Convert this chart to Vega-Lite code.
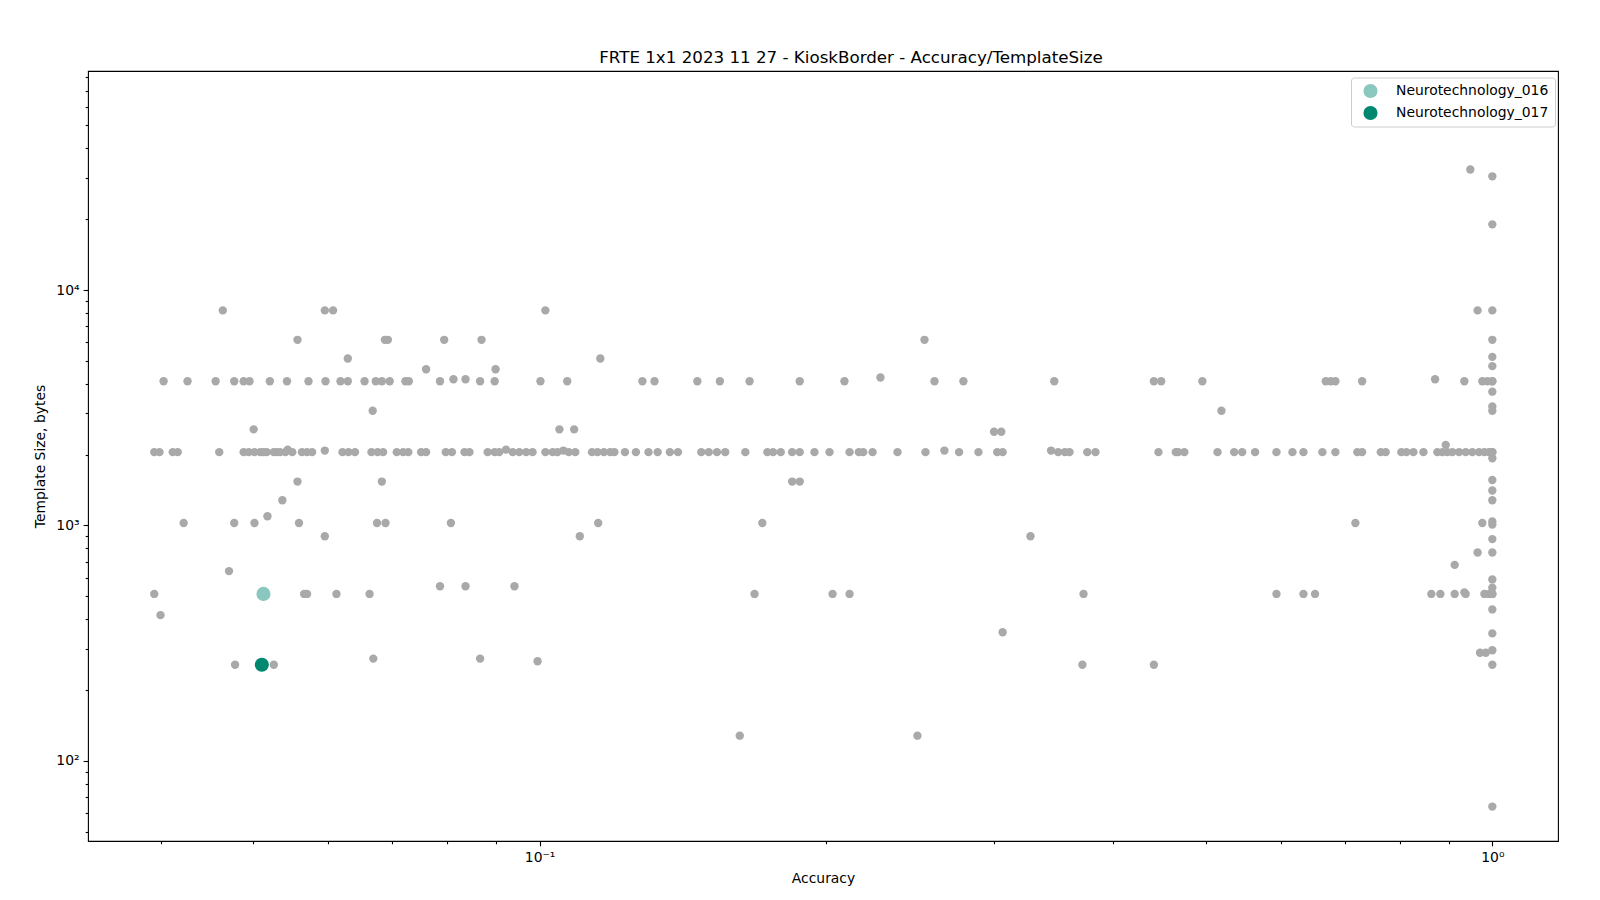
{
  "$schema": "https://vega.github.io/schema/vega-lite/v6.json",
  "width": 1470,
  "height": 770,
  "autosize": {"type": "none"},
  "padding": {"left": 88, "top": 71, "right": 42, "bottom": 59},
  "background": "white",
  "title": {"text": "FRTE 1x1 2023 11 27 - KioskBorder - Accuracy/TemplateSize", "font": "DejaVu Sans", "fontSize": 16.7, "fontWeight": "normal", "color": "black", "anchor": "middle", "frame": "group", "dx": 28, "offset": 4},
  "config": {
    "view": {"stroke": "black", "strokeWidth": 1.1},
    "axis": {"domain": false, "grid": false, "tickColor": "black", "tickWidth": 1.1, "labelColor": "black", "titleColor": "black", "labelFont": "DejaVu Sans", "titleFont": "DejaVu Sans", "labelFontSize": 13.9, "titleFontSize": 13.9, "titleFontWeight": "normal"}
  },
  "datasets": {
    "o": [
      {"a":0.0465,"s":8192},{"a":0.0595,"s":8192},{"a":0.0607,"s":8192},{"a":0.1014,"s":8192},{"a":0.965,"s":8192},{"a":1.0,"s":8192},
      {"a":0.0557,"s":6144},{"a":0.0688,"s":6144},{"a":0.0693,"s":6144},{"a":0.0794,"s":6144},{"a":0.0869,"s":6144},{"a":0.2535,"s":6144},{"a":1.0,"s":6144},
      {"a":0.0629,"s":5120},{"a":0.1158,"s":5120},{"a":1.0,"s":5200},{"a":1.0,"s":4750},
      {"a":0.0760,"s":4608},{"a":0.0899,"s":4608},{"a":0.2279,"s":4250},
      {"a":0.0812,"s":4180},{"a":0.0836,"s":4180},{"a":0.8708,"s":4180},
      {"a":0.0403,"s":4096},{"a":0.0427,"s":4096},{"a":0.0457,"s":4096},{"a":0.0478,"s":4096},{"a":0.0489,"s":4096},{"a":0.0496,"s":4096},{"a":0.0521,"s":4096},{"a":0.0543,"s":4096},{"a":0.0572,"s":4096},{"a":0.0596,"s":4096},{"a":0.0618,"s":4096},{"a":0.0629,"s":4096},{"a":0.0655,"s":4096},{"a":0.0673,"s":4096},{"a":0.0683,"s":4096},{"a":0.0696,"s":4096},{"a":0.0723,"s":4096},{"a":0.0729,"s":4096},{"a":0.0786,"s":4096},{"a":0.0866,"s":4096},{"a":0.0897,"s":4096},{"a":0.1002,"s":4096},{"a":0.1069,"s":4096},{"a":0.1282,"s":4096},{"a":0.1320,"s":4096},{"a":0.1464,"s":4096},{"a":0.1546,"s":4096},{"a":0.1661,"s":4096},{"a":0.1875,"s":4096},{"a":0.2089,"s":4096},{"a":0.2597,"s":4096},{"a":0.2785,"s":4096},{"a":0.3469,"s":4096},{"a":0.4413,"s":4096},{"a":0.4492,"s":4096},{"a":0.4962,"s":4096},{"a":0.6686,"s":4096},{"a":0.6766,"s":4096},{"a":0.6843,"s":4096},{"a":0.7300,"s":4096},{"a":0.9346,"s":4096},{"a":0.9761,"s":4096},{"a":0.988,"s":4096},{"a":1.0,"s":4096},{"a":1.0,"s":4096},
      {"a":1.0,"s":3700},{"a":1.0,"s":3200},
      {"a":0.0668,"s":3072},{"a":0.5196,"s":3072},{"a":1.0,"s":3072},
      {"a":0.0501,"s":2560},{"a":0.1049,"s":2560},{"a":0.1087,"s":2560},
      {"a":0.2999,"s":2500},{"a":0.3052,"s":2500},{"a":0.8935,"s":2200},
      {"a":0.0544,"s":2100},{"a":0.0922,"s":2100},
      {"a":0.0595,"s":2080},{"a":0.1059,"s":2080},{"a":0.2660,"s":2080},{"a":0.3442,"s":2080},
      {"a":0.0394,"s":2048},{"a":0.0399,"s":2048},{"a":0.0412,"s":2048},{"a":0.0417,"s":2048},{"a":0.0461,"s":2048},{"a":0.0489,"s":2048},{"a":0.0495,"s":2048},{"a":0.0502,"s":2048},{"a":0.0509,"s":2048},{"a":0.0513,"s":2048},{"a":0.0517,"s":2048},{"a":0.0526,"s":2048},{"a":0.0530,"s":2048},{"a":0.0534,"s":2048},{"a":0.0541,"s":2048},{"a":0.0550,"s":2048},{"a":0.0563,"s":2048},{"a":0.0570,"s":2048},{"a":0.0577,"s":2048},{"a":0.0621,"s":2048},{"a":0.0630,"s":2048},{"a":0.0640,"s":2048},{"a":0.0666,"s":2048},{"a":0.0676,"s":2048},{"a":0.0685,"s":2048},{"a":0.0708,"s":2048},{"a":0.0719,"s":2048},{"a":0.0728,"s":2048},{"a":0.0751,"s":2048},{"a":0.0760,"s":2048},{"a":0.0797,"s":2048},{"a":0.0809,"s":2048},{"a":0.0834,"s":2048},{"a":0.0844,"s":2048},{"a":0.0882,"s":2048},{"a":0.0897,"s":2048},{"a":0.0907,"s":2048},{"a":0.0937,"s":2048},{"a":0.0952,"s":2048},{"a":0.0968,"s":2048},{"a":0.0983,"s":2048},{"a":0.1014,"s":2048},{"a":0.1032,"s":2048},{"a":0.1044,"s":2048},{"a":0.1073,"s":2048},{"a":0.1090,"s":2048},{"a":0.1135,"s":2048},{"a":0.1150,"s":2048},{"a":0.1168,"s":2048},{"a":0.1186,"s":2048},{"a":0.1198,"s":2048},{"a":0.1229,"s":2048},{"a":0.1262,"s":2048},{"a":0.1301,"s":2048},{"a":0.1330,"s":2048},{"a":0.1370,"s":2048},{"a":0.1397,"s":2048},{"a":0.1478,"s":2048},{"a":0.1505,"s":2048},{"a":0.1535,"s":2048},{"a":0.1566,"s":2048},{"a":0.1644,"s":2048},{"a":0.1734,"s":2048},{"a":0.1758,"s":2048},{"a":0.1791,"s":2048},{"a":0.1841,"s":2048},{"a":0.1875,"s":2048},{"a":0.1943,"s":2048},{"a":0.2015,"s":2048},{"a":0.2115,"s":2048},{"a":0.2163,"s":2048},{"a":0.2186,"s":2048},{"a":0.2236,"s":2048},{"a":0.2375,"s":2048},{"a":0.2541,"s":2048},{"a":0.2756,"s":2048},{"a":0.2888,"s":2048},{"a":0.3022,"s":2048},{"a":0.3062,"s":2048},{"a":0.3502,"s":2048},{"a":0.3559,"s":2048},{"a":0.3599,"s":2048},{"a":0.3757,"s":2048},{"a":0.3832,"s":2048},{"a":0.4462,"s":2048},{"a":0.4653,"s":2048},{"a":0.4680,"s":2048},{"a":0.4750,"s":2048},{"a":0.5147,"s":2048},{"a":0.5358,"s":2048},{"a":0.5463,"s":2048},{"a":0.5636,"s":2048},{"a":0.5935,"s":2048},{"a":0.6169,"s":2048},{"a":0.6335,"s":2048},{"a":0.6632,"s":2048},{"a":0.6843,"s":2048},{"a":0.7216,"s":2048},{"a":0.7300,"s":2048},{"a":0.7637,"s":2048},{"a":0.7728,"s":2048},{"a":0.8026,"s":2048},{"a":0.8125,"s":2048},{"a":0.8263,"s":2048},{"a":0.8466,"s":2048},{"a":0.8756,"s":2048},{"a":0.8863,"s":2048},{"a":0.8970,"s":2048},{"a":0.9079,"s":2048},{"a":0.9227,"s":2048},{"a":0.9376,"s":2048},{"a":0.9528,"s":2048},{"a":0.9684,"s":2048},{"a":0.9810,"s":2048},{"a":0.992,"s":2048},{"a":1.0,"s":2048},{"a":1.0,"s":2048},
      {"a":1.0,"s":1930},{"a":1.0,"s":1560},
      {"a":0.0557,"s":1536},{"a":0.0683,"s":1536},{"a":0.1841,"s":1536},{"a":0.1875,"s":1536},
      {"a":1.0,"s":1408},{"a":0.0537,"s":1280},{"a":1.0,"s":1280},{"a":0.0518,"s":1094},
      {"a":1.0,"s":1040},{"a":1.0,"s":1010},
      {"a":0.0423,"s":1024},{"a":0.0478,"s":1024},{"a":0.0502,"s":1024},{"a":0.0559,"s":1024},{"a":0.0675,"s":1024},{"a":0.0689,"s":1024},{"a":0.0807,"s":1024},{"a":0.1152,"s":1024},{"a":0.1713,"s":1024},{"a":0.7182,"s":1024},{"a":0.9761,"s":1024},
      {"a":0.0595,"s":900},{"a":0.1102,"s":900},{"a":0.3275,"s":900},{"a":1.0,"s":875},
      {"a":0.965,"s":768},{"a":1.0,"s":768},{"a":0.913,"s":680},{"a":0.0472,"s":640},{"a":1.0,"s":590},
      {"a":0.0786,"s":552},{"a":0.0836,"s":552},{"a":0.0941,"s":552},{"a":1.0,"s":544},{"a":0.9346,"s":520},
      {"a":0.0394,"s":512},{"a":0.0566,"s":512},{"a":0.0570,"s":512},{"a":0.0612,"s":512},{"a":0.0663,"s":512},{"a":0.1681,"s":512},{"a":0.2030,"s":512},{"a":0.2115,"s":512},{"a":0.3723,"s":512},{"a":0.5935,"s":512},{"a":0.6335,"s":512},{"a":0.6515,"s":512},{"a":0.8630,"s":512},{"a":0.8820,"s":512},{"a":0.9130,"s":512},{"a":0.9376,"s":512},{"a":0.981,"s":512},{"a":0.992,"s":512},{"a":1.0,"s":512},{"a":1.0,"s":512},
      {"a":1.0,"s":440},{"a":0.0400,"s":416},{"a":0.3062,"s":352},{"a":1.0,"s":348},
      {"a":1.0,"s":295},{"a":0.9707,"s":288},{"a":0.9842,"s":288},
      {"a":0.0669,"s":272},{"a":0.0866,"s":272},{"a":0.0995,"s":265},
      {"a":0.0479,"s":256},{"a":0.0526,"s":256},{"a":0.3713,"s":256},{"a":0.4413,"s":256},{"a":1.0,"s":256},
      {"a":0.1622,"s":128},{"a":0.2492,"s":128},{"a":1.0,"s":64},
      {"a":0.9482,"s":32500},{"a":1.0,"s":30400},{"a":1.0,"s":19000}
    ],
    "h": [
      {"a":0.0513,"s":512,"g":"Neurotechnology_016"},
      {"a":0.0511,"s":256,"g":"Neurotechnology_017"}
    ]
  },
  "layer": [
    {
      "data": {"name": "o"},
      "mark": {"type": "circle", "color": "#a9a9a9", "opacity": 1, "size": 70},
      "encoding": {
        "x": {"field": "a", "type": "quantitative", "scale": {"type": "log", "domain": [0.03357, 1.172], "nice": false},
          "axis": {"orient": "bottom", "values": [0.1, 1], "labelExpr": "datum.value < 0.5 ? '10⁻¹' : '10⁰'", "tickSize": 4.9, "labelPadding": 5, "title": "Accuracy", "titlePadding": 7}},
        "y": {"field": "s", "type": "quantitative", "scale": {"type": "log", "domain": [45.7, 85140], "nice": false},
          "axis": {"orient": "left", "values": [100, 1000, 10000], "labelExpr": "datum.value == 100 ? '10²' : datum.value == 1000 ? '10³' : '10⁴'", "tickSize": 4.9, "labelPadding": 4, "title": "Template Size, bytes", "titlePadding": 8}}
      }
    },
    {
      "data": {"name": "h"},
      "mark": {"type": "circle", "opacity": 1, "size": 200},
      "encoding": {
        "x": {"field": "a", "type": "quantitative", "axis": null},
        "y": {"field": "s", "type": "quantitative", "axis": null},
        "color": {"field": "g", "type": "nominal",
          "scale": {"domain": ["Neurotechnology_016", "Neurotechnology_017"], "range": ["#8ac7be", "#00876f"]},
          "legend": {"title": null, "orient": "none", "legendX": 1263, "legendY": 6.5, "fillColor": "white", "strokeColor": "#cccccc", "cornerRadius": 3, "padding": 6, "symbolType": "circle", "symbolSize": 200, "symbolOpacity": 1, "symbolStrokeWidth": 0, "labelFont": "DejaVu Sans", "labelFontSize": 13.9, "labelColor": "black", "rowPadding": 7, "labelOffset": 18, "symbolOffset": 6}}
      }
    },
    {
      "data": {"name": "h"},
      "mark": {"type": "circle", "opacity": 0},
      "encoding": {
        "x": {"field": "a", "type": "quantitative",
          "axis": {"orient": "bottom", "values": [0.04, 0.05, 0.06, 0.07, 0.08, 0.09, 0.2, 0.3, 0.4, 0.5, 0.6, 0.7, 0.8, 0.9], "labels": false, "tickSize": 2.8, "title": null}},
        "y": {"field": "s", "type": "quantitative",
          "axis": {"orient": "left", "values": [50, 60, 70, 80, 90, 200, 300, 400, 500, 600, 700, 800, 900, 2000, 3000, 4000, 5000, 6000, 7000, 8000, 9000, 20000, 30000, 40000, 50000, 60000, 70000, 80000], "labels": false, "tickSize": 2.8, "title": null}}
      }
    }
  ],
  "resolve": {"axis": {"x": "independent", "y": "independent"}}
}
